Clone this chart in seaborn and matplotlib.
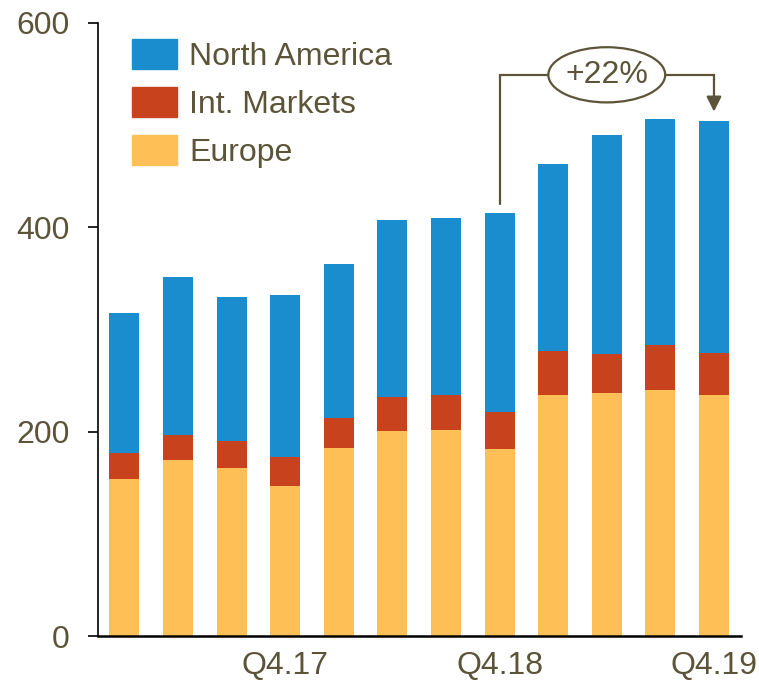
import matplotlib
matplotlib.use("Agg")
import matplotlib.pyplot as plt
from matplotlib.patches import Ellipse, Patch
import seaborn as sns
import numpy as np
import pandas as pd

# --- DATA ---
quarters = ["Q1.17", "Q2.17", "Q3.17", "Q4.17",
            "Q1.18", "Q2.18", "Q3.18", "Q4.18",
            "Q1.19", "Q2.19", "Q3.19", "Q4.19"]
europe = [154, 172, 164, 147, 184, 201, 202, 183, 236, 238, 241, 236]
int_markets = [25, 25, 27, 28, 29, 33, 34, 36, 43, 38, 44, 41]
north_america = [137, 154, 141, 159, 151, 173, 173, 195, 183, 214, 221, 227]
shown_labels = ["Q4.17", "Q4.18", "Q4.19"]
growth_label = "+22%"

C_NA = "#198DCE"
C_INT = "#C9421E"
C_EU = "#FFBF57"
C_TXT = "#5C5438"

df = pd.DataFrame({"quarter": quarters, "Europe": europe,
                   "Int. Markets": int_markets, "North America": north_america})
df["eu_int"] = df["Europe"] + df["Int. Markets"]
df["total"] = df["eu_int"] + df["North America"]

sns.set_style("white")
plt.rcParams["font.family"] = ["Liberation Sans", "DejaVu Sans"]

fig = plt.figure(figsize=(7.59, 6.83), dpi=100)
ax = fig.add_axes([0.1285, 0.0688, 0.8475, 0.898])

# stacked bars drawn as cumulative layers
sns.barplot(data=df, x="quarter", y="total", color=C_NA, width=0.56,
            saturation=1, ax=ax, linewidth=0)
sns.barplot(data=df, x="quarter", y="eu_int", color=C_INT, width=0.56,
            saturation=1, ax=ax, linewidth=0)
sns.barplot(data=df, x="quarter", y="Europe", color=C_EU, width=0.56,
            saturation=1, ax=ax, linewidth=0)

ax.set_xlim(-0.5, 11.5)
ax.set_ylim(0, 600)
ax.set_yticks([0, 200, 400, 600])
ax.set_xlabel("")
ax.set_ylabel("")

pos = [quarters.index(q) for q in shown_labels]
ax.set_xticks(pos)
ax.set_xticklabels(shown_labels)
ax.tick_params(axis="x", length=0, pad=11, labelsize=23, labelcolor=C_TXT)
ax.tick_params(axis="y", length=7.2, width=1.2, direction="out", pad=13,
               labelsize=23, labelcolor=C_TXT, color="black", left=True)

for s in ["top", "right"]:
    ax.spines[s].set_visible(False)
ax.spines["left"].set_color("black")
ax.spines["left"].set_linewidth(1.2)
ax.spines["bottom"].set_color("black")
ax.spines["bottom"].set_linewidth(1.8)

# growth annotation from Q4.18 to Q4.19
i0, i1 = pos[1], pos[2]
y_line = 549
ax.plot([i0, i0, i1, i1], [df["total"][i0] + 9, y_line, y_line, y_line - 5],
        color=C_TXT, lw=1.6, solid_joinstyle="miter", zorder=3)
ax.annotate("", xy=(i1, df["total"][i1] + 9), xytext=(i1, y_line - 4),
            arrowprops=dict(arrowstyle="-|>,head_length=0.9,head_width=0.45",
                            color=C_TXT, lw=1.6, shrinkA=0, shrinkB=0), zorder=3)
ax.add_patch(Ellipse(((i0 + i1) / 2, y_line), 2.18, 54, facecolor="white",
                     edgecolor=C_TXT, lw=1.6, zorder=4))
ax.text((i0 + i1) / 2, y_line, growth_label, ha="center", va="center",
        fontsize=23, color=C_TXT, zorder=5)

handles = [Patch(color=C_NA, label="North America"),
           Patch(color=C_INT, label="Int. Markets"),
           Patch(color=C_EU, label="Europe")]
leg = ax.legend(handles=handles, loc="upper left", bbox_to_anchor=(0.034, 0.994),
                frameon=False, fontsize=23, handlelength=1.4, handleheight=1.07,
                handletextpad=0.38, labelspacing=0.47, borderaxespad=0)
for t in leg.get_texts():
    t.set_color(C_TXT)

fig.savefig("out.png", dpi=100)
